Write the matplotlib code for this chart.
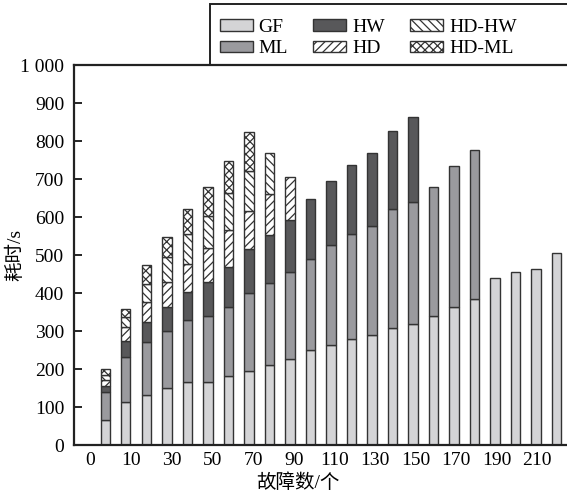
import matplotlib
matplotlib.use("Agg")
import matplotlib.pyplot as plt
import numpy as np
from matplotlib.patches import Rectangle

plt.rcParams['font.family'] = ['Liberation Serif', 'Noto Sans CJK SC']
plt.rcParams['hatch.linewidth'] = 0.9
plt.rcParams['axes.unicode_minus'] = False

# hodnoty (přírůstky jednotlivých částí sloupců)
gf = [67, 114, 132, 151, 165, 167, 181, 195, 210, 227, 250, 262, 278, 289, 309, 319,
      339, 364, 385, 439, 455, 464, 505]
ml = [72, 118, 138, 150, 163, 172, 183, 206, 217, 227, 239, 264, 277, 287, 312, 321,
      339, 370, 391, 0, 0, 0, 0]
hw = [17, 42, 53, 61, 74, 89, 105, 114, 126, 138, 158, 170, 181, 193, 204, 222,
      0, 0, 0, 0, 0, 0, 0]
hd = [14, 36, 54, 66, 74, 90, 97, 102, 107, 112] + [0] * 13
hd_hw = [14, 28, 48, 66, 79, 85, 98, 105, 109] + [0] * 14
hd_ml = [15, 20, 49, 54, 66, 75, 84, 101] + [0] * 15

xtick_labels = ['0', '10', '30', '50', '70', '90', '110', '130', '150', '170', '190', '210']
ytick_values = [0, 100, 200, 300, 400, 500, 600, 700, 800, 900, 1000]
ytick_labels = ['0', '100', '200', '300', '400', '500', '600', '700', '800', '900', '1 000']

series = [
    ('GF', gf, '#d4d4d6', None),
    ('ML', ml, '#9a9a9e', None),
    ('HW', hw, '#58585a', None),
    ('HD', hd, 'white', '////'),
    ('HD-HW', hd_hw, 'white', '\\\\\\\\'),
    ('HD-ML', hd_ml, 'white', 'xxxx'),
]

W, H = 567, 494
fig = plt.figure(figsize=(W / 100, H / 100), dpi=100)
ax = fig.add_axes([74 / W, 1 - 445 / H, (575 - 74) / W, (445 - 65) / H])

x = np.arange(len(gf))
bottom = np.zeros(len(gf))
handles = []
for name, vals, col, hatch in series:
    vals = np.array(vals, dtype=float)
    m = vals > 0
    b = ax.bar(x[m], vals[m], 0.45, bottom=bottom[m], color=col, edgecolor='#333333',
               linewidth=1.0, hatch=hatch, label=name, zorder=2)
    handles.append(b)
    bottom += vals

ax.set_xlim(-1.53, 22.9)
ax.set_ylim(0, 1000)
ax.set_yticks(ytick_values)
ax.set_yticklabels(ytick_labels)
ax.set_xticks(-0.72 + 1.98 * np.arange(len(xtick_labels)))
ax.set_xticklabels(xtick_labels)
ax.tick_params(axis='y', direction='in', length=6, width=1.2, labelsize=14, pad=7)
ax.tick_params(axis='x', length=0, labelsize=14, pad=5)
for s in ax.spines.values():
    s.set_linewidth(1.6)
    s.set_color('#222222')

fig.text(15 / W, 1 - 255 / H, '耗时/s', rotation=90, ha='center', va='center', fontsize=14)
fig.text(298 / W, 1 - 483 / H, '故障数/个', ha='center', va='center', fontsize=14)

# rámeček legendy (vpravo oříznutý)
fig.patches.append(Rectangle((210 / W, 1 - 65 / H), 1, 61 / H, transform=fig.transFigure,
                             fill=False, edgecolor='#222222', linewidth=1.4, zorder=5))
ax.legend(handles=handles, ncol=3, loc='upper left', bbox_to_anchor=(206 / W, 1 - 5 / H),
          bbox_transform=fig.transFigure, frameon=False, fontsize=14,
          handlelength=1.7, handleheight=0.55, handletextpad=0.3, columnspacing=1.3,
          labelspacing=0.25, borderpad=0.2)

plt.savefig('out.png', dpi=100)
